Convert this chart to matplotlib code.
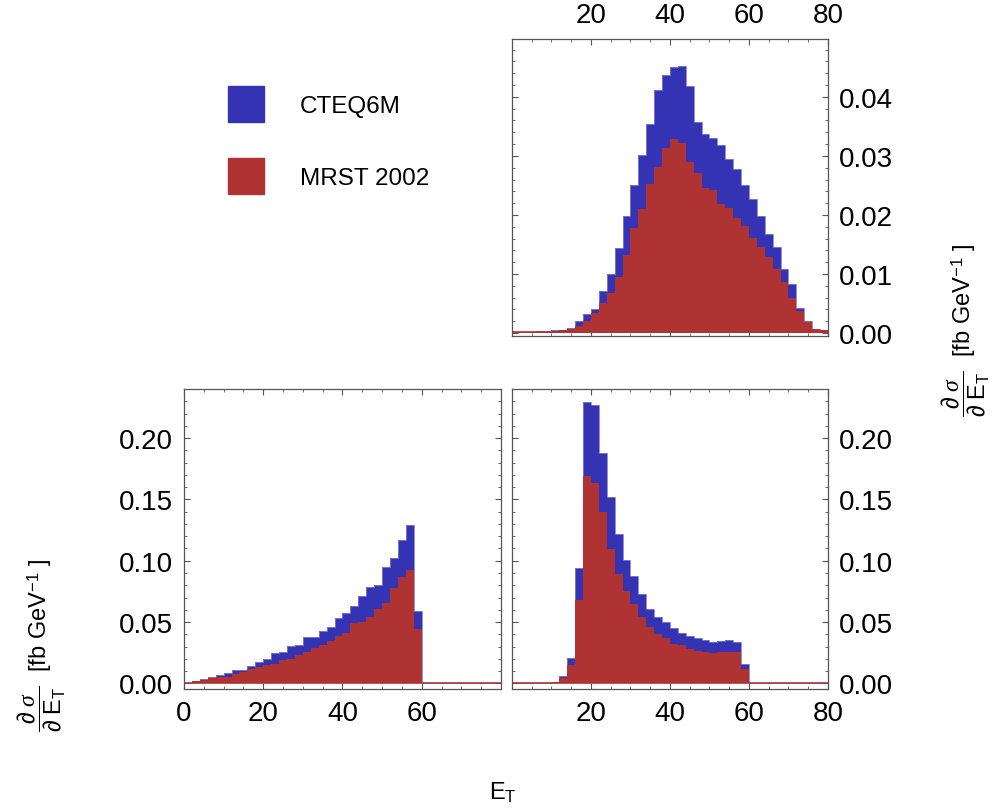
import numpy as np
import matplotlib.pyplot as plt
from matplotlib.patches import Patch
from matplotlib.ticker import MultipleLocator, FormatStrFormatter

plt.rcParams['font.family'] = ['Liberation Sans', 'DejaVu Sans']
plt.rcParams['mathtext.fontset'] = 'custom'
plt.rcParams['mathtext.rm'] = 'Liberation Sans'
plt.rcParams['mathtext.it'] = 'Liberation Serif:italic'

# bin edges in E_T (GeV), 2 GeV bins
edges = np.arange(0, 82, 2)

# top right panel
top_cteq = [0.00017, 0.00017, 0.00023, 0.00028, 0.0004, 0.00045, 0.00056, 0.00085,
            0.00198, 0.00328, 0.00407, 0.00706, 0.0100, 0.0144, 0.0198, 0.0250,
            0.0302, 0.0354, 0.0412, 0.0437, 0.0450, 0.0452, 0.0419, 0.0357,
            0.0337, 0.0331, 0.0319, 0.0294, 0.0277, 0.0250, 0.0227, 0.0199,
            0.0168, 0.0145, 0.0108, 0.0083, 0.0042, 0.0021, 0.0007, 0.0005]
top_mrst = [0.0001, 0.0001, 0.00017, 0.00017, 0.00023, 0.00028, 0.00045, 0.00073,
            0.00124, 0.00198, 0.00339, 0.00508, 0.00678, 0.00949, 0.01316, 0.0178,
            0.0210, 0.0253, 0.0281, 0.0314, 0.0328, 0.0322, 0.0290, 0.0271,
            0.0246, 0.0243, 0.0218, 0.0212, 0.0194, 0.0181, 0.0161, 0.0146,
            0.0128, 0.0109, 0.0086, 0.0059, 0.0037, 0.0019, 0.0007, 0.0005]

# bottom left panel
bl_cteq = [0.0005, 0.0022, 0.0035, 0.0052, 0.0068, 0.0084, 0.0106, 0.0111,
           0.0139, 0.0171, 0.0198, 0.0247, 0.0253, 0.0307, 0.0315, 0.0378,
           0.0375, 0.0429, 0.0456, 0.0530, 0.0573, 0.0633, 0.0715, 0.0788,
           0.0804, 0.0948, 0.1024, 0.1168, 0.1293, 0.0587,
           0.0005, 0.0005, 0.0005, 0.0005, 0.0005, 0.0005, 0.0005, 0.0005, 0.0005, 0.0005]
bl_mrst = [0.0003, 0.0016, 0.0030, 0.0041, 0.0052, 0.0054, 0.0079, 0.0095,
           0.0114, 0.0133, 0.0149, 0.0155, 0.0190, 0.0198, 0.0231, 0.0253,
           0.0288, 0.0315, 0.0342, 0.0383, 0.0410, 0.0495, 0.0497, 0.0541,
           0.0606, 0.0655, 0.0777, 0.0869, 0.0927, 0.0443,
           0.0003, 0.0003, 0.0003, 0.0003, 0.0003, 0.0003, 0.0003, 0.0003, 0.0003, 0.0003]

# bottom right panel
br_cteq = [0.0002, 0.0002, 0.0002, 0.0002, 0.0005, 0.0014, 0.0057, 0.0204,
           0.0943, 0.2290, 0.2269, 0.1875, 0.1516, 0.1215, 0.1005, 0.0878,
           0.0728, 0.0606, 0.0543, 0.0497, 0.0448, 0.0408, 0.0389, 0.0367,
           0.0350, 0.0339, 0.0342, 0.0353, 0.0337, 0.0155,
           0.0003, 0.0003, 0.0003, 0.0003, 0.0003, 0.0003, 0.0003, 0.0003, 0.0003, 0.0003]
br_mrst = [0.0001, 0.0001, 0.0001, 0.0001, 0.0003, 0.0008, 0.0043, 0.0149,
           0.0679, 0.1687, 0.1633, 0.1399, 0.1095, 0.0891, 0.0750, 0.0647,
           0.0543, 0.0456, 0.0402, 0.0367, 0.0321, 0.0313, 0.0280, 0.0266,
           0.0258, 0.0247, 0.0258, 0.0258, 0.0258, 0.0117,
           0.0003, 0.0003, 0.0003, 0.0003, 0.0003, 0.0003, 0.0003, 0.0003, 0.0003, 0.0003]

labels = ['CTEQ6M', 'MRST 2002']
blue = '#3333b3'
red = '#b03333'
frame = '#555555'

W, H = 1003, 812
fig = plt.figure(figsize=(W / 100, H / 100), dpi=100)


def px_axes(x0, y0, x1, y1):
    return fig.add_axes([x0 / W, 1 - y1 / H, (x1 - x0) / W, (y1 - y0) / H])


def style(ax, ymaj, ymin):
    ax.xaxis.set_major_locator(MultipleLocator(20))
    ax.xaxis.set_minor_locator(MultipleLocator(5))
    ax.yaxis.set_major_locator(MultipleLocator(ymaj))
    ax.yaxis.set_minor_locator(MultipleLocator(ymin))
    ax.yaxis.set_major_formatter(FormatStrFormatter('%.2f'))
    ax.tick_params(which='both', direction='in', top=True, bottom=True,
                   left=True, right=True, color=frame, labelsize=20, pad=8)
    ax.tick_params(which='major', length=4, width=0.8)
    ax.tick_params(which='minor', length=2.5, width=0.6)
    for s in ax.spines.values():
        s.set_color(frame)
        s.set_linewidth(0.9)
    ax.set_xlim(0, 80)


def draw(ax, cteq, mrst):
    ax.stairs(cteq, edges, fill=True, color=blue, baseline=0)
    ax.stairs(cteq, edges, color='#8080d0', linewidth=0.6)
    ax.stairs(mrst, edges, fill=True, color=red, baseline=0)
    ax.axhline(0.0002 if ax.get_ylim()[1] < 0.1 else 0.0004, color=red, lw=1.2, zorder=3)


ax_t = px_axes(512, 40, 828, 337)
ax_t.set_ylim(-0.0005, 0.0498)
draw(ax_t, top_cteq, top_mrst)
style(ax_t, 0.01, 0.002)
ax_t.tick_params(labelbottom=False, labeltop=True, labelleft=False, labelright=True)
ax_t.set_xticks([20, 40, 60, 80])

ax_bl = px_axes(184, 390, 501, 690)
ax_bl.set_ylim(-0.0046, 0.24)
draw(ax_bl, bl_cteq, bl_mrst)
style(ax_bl, 0.05, 0.01)
ax_bl.set_xticks([0, 20, 40, 60])

ax_br = px_axes(512, 390, 828, 690)
ax_br.set_ylim(-0.0046, 0.24)
draw(ax_br, br_cteq, br_mrst)
style(ax_br, 0.05, 0.01)
ax_br.tick_params(labelleft=False, labelright=True)
ax_br.set_xticks([20, 40, 60, 80])

for ax in (ax_t, ax_bl, ax_br):
    ax.set_xticks(np.arange(0, 81, 5), minor=True)

ylab = r'$\dfrac{\partial\ \sigma}{\partial\ \mathrm{E_T}}$  [fb GeV$^{-1}$ ]'
fig.text(42 / W, 1 - 645 / H, ylab, rotation=90, ha='center', va='center', fontsize=17)
fig.text(966 / W, 1 - 330 / H, ylab, rotation=90, ha='center', va='center', fontsize=17)
fig.text(503 / W, 1 - 793 / H, r'E$_\mathrm{T}$', ha='center', va='center', fontsize=17)

handles = [Patch(color=blue), Patch(color=red)]
fig.legend(handles, labels, loc='upper left', bbox_to_anchor=(228 / W, 1 - 87 / H),
           frameon=False, fontsize=17.5, handlelength=1.5, handleheight=1.9,
           labelspacing=1.5, handletextpad=1.45, borderpad=0, borderaxespad=0)

fig.savefig('out.png', dpi=100)
